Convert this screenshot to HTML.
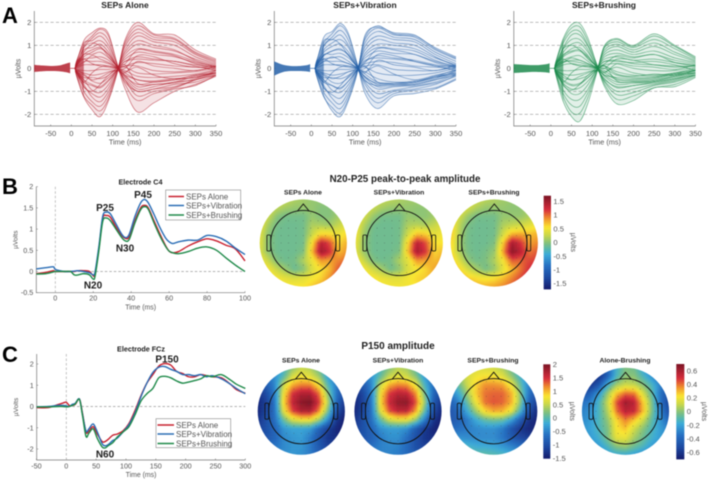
<!DOCTYPE html>
<html lang="en">
<head>
<meta charset="utf-8">
<title>SEP butterfly plots, waveforms and topographies</title>
<style>
html,body{margin:0;padding:0;background:#fff;width:709px;height:480px;overflow:hidden}
svg{display:block;filter:blur(.4px)}
text{font-family:"Liberation Sans",sans-serif;fill:#555}
.ttl{font-weight:bold;fill:#222}
.letter{font-weight:bold;fill:#000;font-size:22px}
.ann{font-weight:bold;fill:#1c1c1c;font-size:10px;text-anchor:middle}
</style>
</head>
<body>
<svg id="figure" width="709" height="480" viewBox="0 0 709 480" xmlns="http://www.w3.org/2000/svg">
<defs>
<filter id="soft" x="-10%" y="-10%" width="120%" height="120%"><feGaussianBlur stdDeviation="1"/></filter>
</defs>
<rect width="709" height="480" fill="#fff"/>
<text class="letter" x="2" y="23">A</text>
<text class="letter" x="2" y="194">B</text>
<text class="letter" x="2" y="362">C</text>
<text class="ttl" x="125" y="8" font-size="8.5" text-anchor="middle">SEPs Alone</text>
<text class="ttl" x="365" y="8" font-size="8.5" text-anchor="middle">SEPs+Vibration</text>
<text class="ttl" x="604" y="8" font-size="8.5" text-anchor="middle">SEPs+Brushing</text>
<text class="ttl" x="140.5" y="184.5" font-size="7.2" text-anchor="middle">Electrode C4</text>
<text class="ttl" x="141" y="351.5" font-size="7.2" text-anchor="middle">Electrode FCz</text>
<text class="ttl" x="405" y="182" font-size="9.8" text-anchor="middle">N20-P25 peak-to-peak amplitude</text>
<text class="ttl" x="398" y="349" font-size="10" text-anchor="middle">P150 amplitude</text>
<text class="ttl" x="303" y="194.5" font-size="6.8" text-anchor="middle">SEPs Alone</text>
<text class="ttl" x="399" y="194.5" font-size="6.8" text-anchor="middle">SEPs+Vibration</text>
<text class="ttl" x="494" y="194.5" font-size="6.8" text-anchor="middle">SEPs+Brushing</text>
<text class="ttl" x="301" y="362.5" font-size="6.8" text-anchor="middle">SEPs Alone</text>
<text class="ttl" x="398" y="362.5" font-size="6.8" text-anchor="middle">SEPs+Vibration</text>
<text class="ttl" x="493" y="362.5" font-size="6.8" text-anchor="middle">SEPs+Brushing</text>
<text class="ttl" x="625" y="362.5" font-size="6.8" text-anchor="middle">Alone-Brushing</text>
<g id="layer"></g>
<g id="notes">
<text class="ann" x="105" y="211">P25</text>
<text class="ann" x="143" y="198">P45</text>
<text class="ann" x="125" y="251.5">N30</text>
<text class="ann" x="93" y="288.5">N20</text>
<text class="ann" x="167" y="362.5">P150</text>
<text class="ann" x="105" y="457.5">N60</text>
</g>
</svg>
<script>
// ---------- Panel A: butterfly plots (µV at each knot time, one row per channel) ----------
const butterflyTimes = [12,30,50,70,90,112,130,160,200,250,300,350];
const preBandTimes = [-90,-70,-50,-30,-10,-3];
const burstTimes = [9,12,18,24,30];
const butterflyYTicks = [2,1,0,-1,-2];
const butterflyXTicks = [-50,0,50,100,150,200,250,300,350];

const aloneTraces = [
[.2,1.2,1.55,1.75,1.5,.1,-.9,-1.9,-1.5,-1.0,-.7,-.35],
[.3,1.0,1.4,1.7,1.4,.15,-.7,-1.4,-1.1,-.9,-.75,-.3],
[.1,.9,1.3,1.55,1.2,.05,-.5,-1.2,-1.0,-.85,-.5,-.2],
[.25,1.1,1.2,1.4,1.0,.1,-.6,-1.0,-.9,-.7,-.6,-.3],
[.15,.7,1.05,1.2,.85,.0,-.4,-.9,-.8,-.6,-.5,-.25],
[.2,.8,.9,1.05,.7,.05,-.3,-.8,-.7,-.65,-.45,-.1],
[.1,.5,.7,.85,.6,.0,-.35,-.7,-.6,-.5,-.4,-.2],
[.05,.6,.6,.7,.45,.05,-.2,-.5,-.55,-.45,-.4,-.15],
[.1,.4,.45,.5,.35,.0,-.1,-.35,-.4,-.35,-.25,-.05],
[.05,.3,.3,.3,.2,.02,.05,-.2,-.25,-.2,-.15,.0],
[.0,.15,.15,.15,.1,-.02,.1,.1,-.1,-.15,-.1,.05],
[-.05,-.1,-.1,-.05,-.05,.02,.1,.25,.2,.1,.05,.0],
[-.1,-.2,-.3,-.25,-.15,.0,.3,.5,.4,.3,.15,.05],
[-.1,-.4,-.4,-.45,-.3,.05,.4,.7,.6,.5,.25,.1],
[-.15,-.3,-.55,-.65,-.4,-.02,.5,.85,.75,.6,.3,.05],
[-.1,-.6,-.75,-.85,-.55,-.05,.6,1.05,.9,.75,.4,.15],
[-.2,-.5,-.95,-1.05,-.7,.0,.7,1.2,1.0,.8,.35,.1],
[-.2,-.8,-1.1,-1.25,-.85,-.05,.8,1.4,1.15,1.0,.5,.2],
[-.15,-.7,-1.25,-1.45,-1.0,-.1,.95,1.55,1.25,1.15,.6,.25],
[-.25,-1.0,-1.45,-1.65,-1.15,-.05,1.05,1.7,1.35,1.25,.65,.3],
[-.3,-1.2,-1.6,-1.85,-1.3,-.1,1.15,1.85,1.45,1.3,.7,.35],
[-.3,-1.25,-1.8,-2.1,-1.4,-.15,1.25,2.0,1.5,1.45,.8,.4],
[.15,.6,.8,.9,.6,.1,.3,.4,.35,.3,.1,-.1],
[-.1,-.5,-.7,-.8,-.5,-.1,-.3,-.5,-.6,-.5,-.3,-.2],
[.1,.9,1.1,.95,.5,.1,.2,.8,.7,.55,.2,.05],
[-.15,-.8,-1.0,-.7,-.3,-.1,-.5,-1.0,-.9,-.8,-.5,-.3],
[.05,.25,.55,.4,.25,.05,.0,.55,.5,.2,.05,.1],
[-.05,-.25,-.5,-.4,-.2,-.05,.15,-.65,-.7,-.6,-.35,-.2],
[.2,.4,.2,.1,.05,.0,-.15,.05,-.3,-.45,-.3,-.1],
[-.15,-.6,-.2,.05,.1,.0,-.2,.3,.1,.0,-.1,.1]
];
const alonePreUpper = [.15,.12,.1,.12,.22,.25];
const alonePreLower = [-.16,-.13,-.12,-.13,-.18,-.22];
const aloneBurstUpper = [.05,.3,.42,.55,1.2];
const aloneBurstLower = [-.05,-.2,-.42,-.55,-1.25];

const vibrationTraces = [
[.2,1.35,1.6,1.95,1.5,.1,-1.1,-1.75,-1.2,-1.1,-.9,-.5],
[.3,1.1,1.5,1.85,1.4,.15,-.9,-1.5,-1.1,-.95,-.85,-.45],
[.15,1.0,1.35,1.65,1.2,.05,-.7,-1.3,-1.0,-.9,-.7,-.3],
[.25,1.2,1.25,1.45,1.0,.1,-.6,-1.1,-.95,-.8,-.65,-.35],
[.1,.8,1.1,1.25,.9,.0,-.5,-.9,-.8,-.75,-.6,-.25],
[.2,.7,.95,1.05,.7,.05,-.4,-.8,-.75,-.7,-.5,-.2],
[.1,.55,.75,.8,.6,.0,-.35,-.7,-.7,-.65,-.45,-.1],
[.05,.6,.6,.65,.45,.05,-.25,-.6,-.65,-.6,-.4,-.15],
[.1,.4,.45,.5,.3,.0,-.15,-.45,-.6,-.55,-.35,-.05],
[.05,.3,.3,.3,.2,.02,.05,-.2,-.3,-.3,-.2,.0],
[.0,.15,.15,.15,.1,-.02,.1,.15,-.05,-.1,-.1,.05],
[-.05,-.1,-.1,-.05,-.05,.02,.2,.3,.25,.1,.05,.0],
[-.1,-.2,-.3,-.25,-.15,.0,.3,.55,.45,.35,.15,.05],
[-.1,-.4,-.4,-.45,-.3,.05,.45,.75,.65,.6,.3,.1],
[-.15,-.3,-.6,-.65,-.4,-.02,.55,.9,.85,.75,.35,.05],
[-.1,-.6,-.75,-.85,-.55,-.05,.65,1.05,1.0,.85,.45,.15],
[-.2,-.5,-.95,-1.05,-.7,.0,.8,1.25,1.1,1.0,.5,.1],
[-.2,-.85,-1.15,-1.3,-.85,-.05,.95,1.4,1.25,1.15,.6,.2],
[-.15,-.75,-1.3,-1.55,-1.0,-.1,1.1,1.6,1.35,1.25,.7,.3],
[-.25,-1.05,-1.5,-1.75,-1.15,-.05,1.25,1.75,1.45,1.35,.8,.4],
[-.3,-1.25,-1.7,-1.95,-1.3,-.1,1.35,1.85,1.5,1.4,.9,.5],
[-.3,-1.2,-1.85,-2.1,-1.4,-.15,1.45,1.8,1.55,1.45,.85,.45],
[.15,.55,.75,.85,.55,.1,.35,.45,.4,.3,.1,-.1],
[-.1,-.5,-.75,-.9,-.55,-.1,-.4,-.65,-.65,-.6,-.35,-.2],
[.1,.95,1.25,1.05,.55,.1,.25,.85,.8,.6,.25,.05],
[-.15,-.85,-1.05,-.75,-.35,-.1,-.55,-.75,-.7,-.7,-.5,-.3],
[.05,.3,.5,.35,.2,.05,.0,.6,.55,.3,.1,.1],
[-.05,-.25,-.45,-.35,-.15,-.05,.1,-.6,-.65,-.6,-.4,-.25],
[.2,.4,.2,.1,.05,.0,-.15,.1,-.25,-.5,-.3,-.1],
[-.15,-.6,-.2,.05,.1,.0,-.2,.35,.15,.05,-.1,.15]
];
const vibrationPreUpper = [.3,.16,.1,.1,.14,.18];
const vibrationPreLower = [-.32,-.17,-.12,-.12,-.14,-.16];
const vibrationBurstUpper = [.05,.32,.42,.6,1.3];
const vibrationBurstLower = [-.05,-.2,-.42,-.55,-1.2];

const brushingTraces = [
[.3,1.3,1.9,1.95,1.3,.1,-.8,-1.55,-1.4,-.85,-.8,-.4],
[.2,1.2,1.75,1.8,1.15,.15,-.7,-1.35,-1.2,-.85,-.7,-.35],
[.25,1.1,1.6,1.6,1.0,.05,-.6,-1.15,-1.05,-.75,-.6,-.3],
[.15,.9,1.45,1.45,.95,.1,-.55,-1.0,-.9,-.7,-.55,-.3],
[.2,.85,1.25,1.25,.8,.0,-.45,-.85,-.75,-.65,-.5,-.25],
[.1,.7,1.05,1.1,.7,.05,-.35,-.7,-.65,-.6,-.45,-.2],
[.15,.55,.85,.9,.55,.0,-.3,-.6,-.6,-.55,-.4,-.15],
[.05,.5,.7,.75,.45,.05,-.2,-.5,-.55,-.5,-.35,-.1],
[.1,.35,.5,.55,.3,.0,-.1,-.45,-.5,-.45,-.3,-.1],
[.05,.25,.35,.35,.2,.02,.0,-.3,-.4,-.4,-.25,-.05],
[.0,.15,.2,.15,.1,-.02,.1,-.15,-.3,-.35,-.2,.0],
[-.05,-.1,-.1,-.05,-.05,.02,.15,.2,.0,-.1,-.1,.05],
[-.1,-.25,-.3,-.25,-.15,.0,.3,.35,.2,.15,.1,.1],
[-.1,-.4,-.5,-.45,-.3,.05,.4,.5,.35,.4,.25,.15],
[-.15,-.5,-.7,-.65,-.4,-.02,.5,.65,.5,.6,.35,.2],
[-.1,-.65,-.9,-.85,-.55,-.05,.6,.8,.6,.75,.45,.25],
[-.2,-.7,-1.1,-1.1,-.7,.0,.7,.95,.7,.95,.6,.3],
[-.2,-.95,-1.35,-1.35,-.9,-.05,.8,1.05,.8,1.1,.7,.35],
[-.25,-1.1,-1.6,-1.65,-1.05,-.1,.9,1.15,.9,1.25,.85,.4],
[-.25,-1.25,-1.9,-1.95,-1.25,-.1,.95,1.25,.95,1.4,.95,.45],
[-.3,-1.45,-2.1,-2.3,-1.5,-.15,1.0,1.3,1.0,1.5,1.0,.5],
[.15,.6,.75,.8,.5,.1,.3,.3,.25,.3,.15,-.1],
[-.1,-.55,-.75,-.7,-.4,-.1,-.3,-.4,-.45,-.4,-.25,-.2],
[.1,.85,1.0,.8,.4,.1,.2,.55,.45,.6,.25,.1],
[-.15,-.75,-.95,-.7,-.3,-.1,-.5,-.8,-.75,-.6,-.45,-.3],
[.05,.25,.45,.35,.2,.05,.0,.4,.35,.15,.05,.1],
[-.05,-.3,-.5,-.35,-.2,-.05,.1,-.55,-.6,-.55,-.35,-.2],
[.2,.4,.2,.1,.05,.0,-.15,.05,-.2,-.3,-.2,-.1],
[-.15,-.6,-.2,.05,.1,.0,-.2,.2,.1,.05,-.05,.15],
[.1,.3,.3,.25,.15,.02,.1,-.25,-.35,-.25,-.3,-.1]
];
const brushingPreUpper = [.18,.16,.14,.14,.18,.22];
const brushingPreLower = [-.2,-.18,-.16,-.16,-.18,-.2];
const brushingBurstUpper = [.05,.32,.4,.65,1.3];
const brushingBurstLower = [-.05,-.22,-.42,-.6,-1.45];

// ---------- Panel B: electrode C4 waveforms ----------
const c4Times = [-10,-5,-1,0,5,8,10,12,15,18,20,21,23,25,27,29,32,35,37,39,42,45,47,49,52,55,58,60,62,65,70,75,80,85,90,95,100];
const c4Alone = [-.05,-.02,.02,0,0,0,0,.02,.02,0,-.1,-.05,.55,1.25,1.32,1.28,1.05,.85,.78,.82,1.2,1.5,1.56,1.5,1.2,.9,.62,.48,.44,.47,.6,.7,.77,.72,.62,.53,.25];
const c4Vibration = [.06,.09,.11,.05,0,0,.01,.02,0,-.03,-.08,0,.6,1.3,1.4,1.36,1.12,.88,.8,.88,1.3,1.62,1.7,1.62,1.35,1.05,.8,.7,.66,.7,.74,.74,.85,.82,.72,.55,.4];
const c4Brushing = [-.06,-.05,-.01,0,0,0,-.08,-.08,-.05,-.08,-.18,-.1,.5,1.18,1.26,1.2,1,.8,.72,.76,1.15,1.46,1.53,1.47,1.15,.85,.6,.48,.44,.42,.47,.55,.58,.5,.32,.15,0];
const c4XTicks = [0,20,40,60,80,100];
const c4YTicks = [2,1.5,1,.5,0,-.5];

// ---------- Panel C: electrode FCz waveforms ----------
const fczTimes = [-50,-30,-15,-5,0,5,10,15,22,27,33,38,45,52,60,65,70,78,85,95,105,115,125,135,145,155,165,175,185,195,205,215,225,235,245,260,275,285,300];
const fczAlone = [-.05,-.05,.08,.17,.2,.05,.05,.1,.35,-.3,-1.2,-1.15,-.95,-1.3,-1.65,-1.65,-1.55,-1.35,-1.3,-1.15,-.8,-.2,.5,1.1,1.5,1.9,2.02,1.95,1.65,1.55,1.4,1.4,1.5,1.45,1.4,1.35,1.05,.8,.62];
const fczVibration = [-.02,0,.05,.05,.03,0,.1,.15,.35,-.35,-1.15,-1.05,-.82,-1.2,-1.75,-1.85,-1.8,-1.6,-1.5,-1.2,-.85,-.3,.45,1.1,1.6,1.85,1.88,1.75,1.65,1.5,1.5,1.45,1.5,1.4,1.45,1.3,1.05,.85,.6];
const fczBrushing = [-.02,-.02,0,0,-.02,0,.05,.12,.33,-.4,-1.4,-1.25,-1.05,-1.5,-1.9,-1.95,-1.85,-1.7,-1.45,-1.2,-.95,-.4,.25,.6,.85,1.35,1.42,1.35,1.2,1.1,1.15,1.22,1.3,1.45,1.4,1.5,1.25,1.05,.85];
const fczXTicks = [-50,0,50,100,150,200,250,300];
const fczYTicks = [2,1,0,-1,-2];

// ---------- Topographies: µV on an 11×11 scalp grid (rows front to back, columns left to right) ----------
const topoB1 = [
[.45,.4,.3,.25,.15,.1,.05,.05,.05,.05,.05],
[.45,.35,.2,.1,.05,.05,.05,-.02,-.02,.05,.05],
[.45,.25,-.02,-.1,-.1,-.1,.05,-.02,-.02,.1,.2],
[.45,.1,-.1,-.12,-.12,-.1,.15,.15,.1,.25,.4],
[.4,.0,-.12,-.12,-.12,-.1,.25,.6,.6,.45,.6],
[.4,-.02,-.12,-.12,-.12,-.1,.55,1.35,1.1,.6,.75],
[.35,.02,-.12,-.12,-.12,-.05,.7,1.5,1.25,.7,.85],
[.5,.25,-.05,-.12,-.08,.15,.45,.85,.8,.9,1],
[.65,.5,.25,.05,-.15,-.02,.35,.55,.7,1.05,1.2],
[.7,.6,.5,.4,.35,.4,.5,.6,.85,1.2,1.3],
[.7,.65,.6,.55,.55,.55,.65,.8,1,1.2,1.3]
];
const topoB2 = [
[.4,.35,.3,.25,.2,.15,.1,.1,.1,.1,.1],
[.45,.4,.25,.12,.05,.05,.05,.02,.02,.1,.15],
[.5,.3,.05,-.1,-.1,-.1,.05,.02,.02,.1,.25],
[.5,.15,-.1,-.12,-.12,-.1,.15,.2,.15,.25,.4],
[.5,.05,-.12,-.12,-.12,-.1,.3,.7,.65,.4,.5],
[.45,.0,-.12,-.12,-.12,-.1,.6,1.35,1.1,.55,.55],
[.4,.05,-.12,-.12,-.12,-.05,.7,1.45,1.2,.6,.7],
[.55,.25,-.05,-.12,-.08,.15,.4,.85,.8,.7,.8],
[.65,.5,.3,.1,-.12,.02,.35,.5,.6,.8,.9],
[.65,.6,.55,.45,.4,.4,.5,.6,.65,.75,.85],
[.65,.6,.6,.55,.5,.5,.5,.55,.65,.75,.85]
];
const topoB3 = [
[.5,.45,.4,.3,.2,.15,.1,.05,.05,.05,.05],
[.55,.45,.3,.15,.05,.05,.05,.02,.02,.1,.15],
[.6,.3,.05,-.1,-.1,-.1,.05,.05,.05,.15,.3],
[.65,.2,-.08,-.12,-.12,-.1,.15,.25,.3,.4,.55],
[.7,.15,-.1,-.12,-.12,-.1,.3,.75,.8,.7,.75],
[.65,.1,-.1,-.12,-.12,-.05,.65,1.45,1.2,.8,.9],
[.6,.15,-.08,-.12,-.08,.05,.8,1.6,1.35,.95,1.05],
[.75,.35,.02,-.1,-.05,.15,.5,1.05,1,1.1,1.15],
[.85,.6,.3,.1,-.1,.05,.4,.7,.95,1.2,1.3],
[.95,.85,.65,.55,.5,.55,.7,.9,1.1,1.3,1.35],
[.95,.9,.8,.75,.75,.8,.9,1.05,1.2,1.3,1.35]
];
const topoC1 = [
[-.6,-.5,-.35,-.1,.25,.5,.4,.1,-.3,-.6,-.8],
[-.8,-.65,-.4,.0,.6,.75,.65,.35,-.25,-.65,-.85],
[-1.1,-.85,-.45,.55,1.05,1.2,1.2,.8,.0,-.55,-.95],
[-1.3,-1.05,-.5,.8,1.5,1.7,1.7,1.3,.3,-.6,-1.1],
[-1.4,-1.15,-.55,.9,1.6,1.9,2,1.5,.5,-.75,-1.25],
[-1.4,-1.1,-.6,.7,1.4,1.7,1.7,1.2,.2,-.95,-1.4],
[-1.3,-1,-.65,.1,.6,.75,.75,.35,-.4,-1.25,-1.5],
[-1.15,-1,-.75,-.35,-.25,-.25,-.3,-.75,-1.15,-1.4,-1.5],
[-1.05,-.95,-.75,-.45,-.35,-.3,-.55,-.95,-1.25,-1.35,-1.45],
[-.85,-.75,-.6,-.45,-.35,-.35,-.55,-.9,-1.15,-1.25,-1.25],
[-.7,-.65,-.55,-.4,-.35,-.4,-.55,-.8,-1,-1.1,-1.1]
];
const topoC2 = [
[-.7,-.5,-.3,-.05,.2,.45,.35,.05,-.35,-.65,-.85],
[-.85,-.65,-.35,.05,.5,.65,.55,.25,-.3,-.7,-.9],
[-1.15,-.9,-.45,.55,1.05,1.2,1.15,.75,-.05,-.65,-1],
[-1.35,-1.1,-.5,.8,1.45,1.65,1.6,1.2,.2,-.7,-1.15],
[-1.4,-1.15,-.55,.85,1.55,1.85,1.9,1.4,.4,-.85,-1.3],
[-1.4,-1.1,-.6,.65,1.35,1.6,1.6,1.1,.1,-1,-1.4],
[-1.3,-1,-.65,.05,.55,.7,.7,.3,-.5,-1.25,-1.5],
[-1.15,-1,-.75,-.4,-.3,-.3,-.4,-.85,-1.2,-1.4,-1.5],
[-1.05,-.95,-.8,-.55,-.4,-.4,-.65,-1,-1.25,-1.35,-1.45],
[-.9,-.8,-.65,-.5,-.45,-.5,-.7,-1,-1.15,-1.25,-1.25],
[-.75,-.7,-.6,-.5,-.5,-.55,-.7,-.9,-1.05,-1.1,-1.1]
];
const topoC3 = [
[.15,.35,.55,.6,.6,.55,.4,.1,-.2,-.4,-.5],
[.0,.3,.6,.75,.8,.8,.65,.3,-.1,-.45,-.6],
[-.3,.1,.55,.9,1.15,1.15,1.1,.75,.1,-.5,-.8],
[-.6,-.2,.35,.95,1.25,1.3,1.3,1.05,.3,-.6,-1],
[-.85,-.5,.1,.75,1.25,1.35,1.3,1.05,.3,-.8,-1.2],
[-.95,-.7,-.2,.35,.85,1.05,1,.7,-.05,-1,-1.4],
[-.95,-.8,-.55,-.2,.05,.15,.1,-.25,-.85,-1.3,-1.45],
[-.75,-.65,-.55,-.45,-.4,-.4,-.55,-.95,-1.25,-1.4,-1.45],
[-.45,-.4,-.45,-.45,-.45,-.45,-.6,-.9,-1.1,-1.2,-1.2],
[-.05,-.05,-.1,-.2,-.2,-.25,-.35,-.5,-.65,-.75,-.8],
[.15,.15,.1,.05,.05,.0,-.05,-.2,-.3,-.4,-.4]
];
const topoC4 = [
[-.65,-.65,-.6,-.4,-.15,-.02,-.05,-.2,-.35,-.4,-.45],
[-.7,-.68,-.62,-.4,-.12,.0,.0,-.12,-.25,-.4,-.45],
[-.65,-.6,-.45,-.15,.05,.12,.1,.0,-.12,-.3,-.45],
[-.5,-.4,-.22,.05,.3,.42,.4,.15,-.08,-.35,-.5],
[-.35,-.3,-.12,.12,.45,.62,.55,.28,-.02,-.35,-.55],
[-.3,-.25,-.12,.08,.4,.55,.52,.3,-.02,-.3,-.5],
[-.28,-.22,-.12,.02,.25,.38,.28,.12,-.08,-.25,-.4],
[-.25,-.2,-.12,-.02,.22,.28,.12,.0,-.12,-.22,-.3],
[-.28,-.22,-.15,-.02,.18,.18,.05,-.05,-.15,-.22,-.28],
[-.32,-.28,-.22,-.12,.0,.03,-.05,-.12,-.22,-.28,-.32],
[-.35,-.32,-.28,-.22,-.18,-.18,-.22,-.28,-.32,-.35,-.35]
];
const topoBBarTicks = [1.5,1,.5,0,-.5,-1,-1.5];
const topoCBarTicks = [2,1.5,1,.5,0,-.5,-1,-1.5];
const topoDiffBarTicks = [.6,.4,.2,0,-.2,-.4,-.6];

// ---------- Shared colour scale (position on the bar, colour) ----------
const colorStops = [0,.12,.25,.37,.43,.48,.58,.66,.75,.85,1];
const colorValues = [[20,28,110],[28,72,160],[38,112,194],[60,170,216],[88,184,172],[122,190,132],[204,216,72],[250,230,50],[240,150,45],[214,44,60],[122,20,36]];

const NS = 'http://www.w3.org/2000/svg';
const layer = document.getElementById('layer');
function mk(tag, parent, attrs, txt) {
  const e = document.createElementNS(NS, tag);
  for (const k in attrs) e.setAttribute(k, attrs[k]);
  if (txt !== undefined) e.textContent = txt;
  parent.appendChild(e);
  return e;
}
function scale(d0, d1, r0, r1) { return v => r0 + (v - d0) * (r1 - r0) / (d1 - d0); }
function smoothPath(xs, ys) {
  let d = 'M' + xs[0].toFixed(2) + ' ' + ys[0].toFixed(2);
  for (let i = 0; i < xs.length - 1; i++) {
    const a = Math.max(i - 1, 0), b = Math.min(i + 2, xs.length - 1);
    const c1x = xs[i] + (xs[i + 1] - xs[a]) / 6, c1y = ys[i] + (ys[i + 1] - ys[a]) / 6;
    const c2x = xs[i + 1] - (xs[b] - xs[i]) / 6, c2y = ys[i + 1] - (ys[b] - ys[i]) / 6;
    d += 'C' + [c1x, c1y, c2x, c2y, xs[i + 1], ys[i + 1]].map(n => n.toFixed(2)).join(' ');
  }
  return d;
}
function colorAt(t) {
  t = Math.max(0, Math.min(1, t));
  let i = 0;
  while (i < colorStops.length - 2 && t > colorStops[i + 1]) i++;
  const f = (t - colorStops[i]) / (colorStops[i + 1] - colorStops[i]);
  const c = colorValues[i].map((v, k) => Math.round(v + (colorValues[i + 1][k] - v) * f));
  return 'rgb(' + c.join(',') + ')';
}
function axes(g, left, right, top, bottom, x, y, xTicks, yTicks, tickY, labelY, labelX, fs) {
  const ax = mk('path', g, {d: 'M' + left + ' ' + top + 'V' + bottom + 'H' + right, fill: 'none', stroke: '#777', 'stroke-width': .7});
  
  
  xTicks.forEach(v => {
    const tick = mk('line', g, {x1: x(v), x2: x(v), y1: bottom, y2: bottom - 1.5, stroke: '#777', 'stroke-width': .6});
    
    
    const lab = mk('text', g, {x: x(v), y: tickY, 'font-size': fs, 'text-anchor': 'middle'}, String(v));
    
    
  });
  yTicks.forEach(v => {
    const tick = mk('line', g, {x1: left, x2: left + 1.5, y1: y(v), y2: y(v), stroke: '#777', 'stroke-width': .6});
    
    
    const lab = mk('text', g, {x: left - 3, y: y(v) + fs * .35, 'font-size': fs, 'text-anchor': 'end'}, String(v));
    
    
  });
  const xt = mk('text', g, {x: (left + right) / 2, y: labelY, 'font-size': fs - .3, 'text-anchor': 'middle'}, 'Time (ms)');
  
  
  const cy = (top + bottom) / 2;
  const yt = mk('text', g, {x: labelX, y: cy, 'font-size': fs - .5, 'text-anchor': 'middle', transform: 'rotate(-90 ' + labelX + ' ' + cy + ')'}, 'µVolts');
  
  
}

function butterfly(name, off, traces, preUp, preLow, burstUp, burstLow, color) {
  const g = mk('g', layer, {});
  
  
  const left = 34.3 + off, right = 216 + off;
  const x = scale(-50, 350, 50.7 + off, 216 + off), y = scale(2, -2, 22.3, 114.3);
  butterflyYTicks.filter(v => v !== 0).forEach(v => {
    const grid = mk('line', g, {x1: left, x2: right, y1: y(v), y2: y(v), stroke: '#999', 'stroke-width': .7, 'stroke-dasharray': '3.2 2.2'});
    
    
  });
  axes(g, left, right, 11, 126, x, y, butterflyXTicks, butterflyYTicks, 135.8, 144.5, 20.5 + off, 7.6);
  const band = (ts, up, low, op) => {
    const xs = ts.map(x);
    const d = smoothPath(xs, up.map(y)) + 'L' + smoothPath(xs.slice().reverse(), low.slice().reverse().map(y)).slice(1) + 'Z';
    const p = mk('path', g, {d: d, fill: color, 'fill-opacity': op});
    
    
  };
  band(preBandTimes, preUp, preLow, .85);
  band(burstTimes, burstUp, burstLow, .6);
  band(butterflyTimes, butterflyTimes.map((t, k) => Math.max(...traces.map(r => r[k]))), butterflyTimes.map((t, k) => Math.min(...traces.map(r => r[k]))), .13);
  const flat = mk('line', g, {x1: x(-3), x2: x(9), y1: y(0), y2: y(0), stroke: color, 'stroke-width': .6});
  
  
  const xs = butterflyTimes.map(x);
  traces.forEach(row => {
    const p = mk('path', g, {d: smoothPath([x(9)].concat(xs), [y(0)].concat(row.map(y))), fill: 'none', stroke: color, 'stroke-width': .6, 'stroke-opacity': .72});
    
    
  });
}
butterfly('butterfly-alone', 0, aloneTraces, alonePreUpper, alonePreLower, aloneBurstUpper, aloneBurstLower, '#b3202e');
butterfly('butterfly-vibration', 240, vibrationTraces, vibrationPreUpper, vibrationPreLower, vibrationBurstUpper, vibrationBurstLower, '#2460a8');
butterfly('butterfly-brushing', 479.5, brushingTraces, brushingPreUpper, brushingPreLower, brushingBurstUpper, brushingBurstLower, '#1c8a4c');

const seriesColors = ['#c8202e', '#2a6db5', '#1f8a4a'];
const seriesNames = ['SEPs Alone', 'SEPs+Vibration', 'SEPs+Brushing'];
function legend(g, bx, by, bw, bh, rowsY, lineX0, lineX1, textX) {
  const box = mk('rect', g, {x: bx, y: by, width: bw, height: bh, fill: '#fff', stroke: '#888', 'stroke-width': .6});
  
  
  seriesNames.forEach((s, i) => {
    const ln = mk('line', g, {x1: lineX0, x2: lineX1, y1: rowsY[i], y2: rowsY[i], stroke: seriesColors[i], 'stroke-width': 1.5});
    
    
    const t = mk('text', g, {x: textX, y: rowsY[i] + 2.8, 'font-size': 8, fill: '#333'}, s);
    
    
  });
}
function waveforms(name, times, series, x, y, left, right, top, bottom, xTicks, yTicks, tickY, labelY, labelX, zeroStart) {
  const g = mk('g', layer, {});
  
  
  axes(g, left, right, top, bottom, x, y, xTicks, yTicks, tickY, labelY, labelX, 7.2);
  const vz = mk('line', g, {x1: x(0), x2: x(0), y1: top, y2: bottom, stroke: '#aaa', 'stroke-width': .7, 'stroke-dasharray': '2.5 2'});
  
  
  const hz = mk('line', g, {x1: x(zeroStart), x2: right, y1: y(0), y2: y(0), stroke: '#999', 'stroke-width': .7, 'stroke-dasharray': '2.5 2'});
  
  
  series.forEach((vals, i) => {
    const p = mk('path', g, {d: smoothPath(times.map(x), vals.map(y)), fill: 'none', stroke: seriesColors[i], 'stroke-width': 1.4});
    
    
  });
  return g;
}
const gB = waveforms('c4-waveform-chart', c4Times, [c4Alone, c4Vibration, c4Brushing], scale(0, 100, 55.3, 245), scale(2, -.5, 186.7, 292.7), 36.3, 245, 186.7, 292.7, c4XTicks, c4YTicks, 300.5, 309.5, 17.5, 0);
legend(gB, 165.7, 190, 75, 30, [196.5, 205.5, 215], 168.5, 184, 186);
const gC = waveforms('fcz-waveform-chart', fczTimes, [fczAlone, fczVibration, fczBrushing], scale(0, 300, 66.3, 245.3), scale(2, -2, 364, 449), 36.7, 245.3, 354, 460, fczXTicks, fczYTicks, 468.5, 477, 18, -50);
legend(gC, 156, 418.7, 74.7, 29, [425, 434, 443.5], 157.5, 174, 176);

function topomap(name, clipId, cx, cy, grid, lo, hi) {
  const R = 43.6, step = 3, n = grid.length - 1;
  const g = mk('g', layer, {});
  
  
  const defs = mk('clipPath', g, {id: clipId});
  mk('circle', defs, {cx: cx, cy: cy, r: R});
  const clipped = mk('g', g, {'clip-path': 'url(#' + clipId + ')'});
  const cells = mk('g', clipped, {filter: 'url(#soft)'});
  for (let py = -R - 3; py < R + 3; py += step) {
    for (let px = -R - 3; px < R + 3; px += step) {
      if (px * px + py * py > (R + 7) * (R + 7)) continue;
      const u = Math.max(0, Math.min(n, ((px + step / 2) / R + 1) / 2 * n));
      const w = Math.max(0, Math.min(n, ((py + step / 2) / R + 1) / 2 * n));
      const i = Math.min(n - 1, Math.floor(u)), j = Math.min(n - 1, Math.floor(w));
      const fu = u - i, fw = w - j;
      const v = grid[j][i] * (1 - fu) * (1 - fw) + grid[j][i + 1] * fu * (1 - fw) + grid[j + 1][i] * (1 - fu) * fw + grid[j + 1][i + 1] * fu * fw;
      const r = mk('rect', cells, {x: cx + px, y: cy + py, width: step + .3, height: step + .3, fill: colorAt((v - lo) / (hi - lo))});
      
      
    }
  }
  for (let row = -4; row <= 4; row++) {
    for (let col = -4; col <= 4; col++) {
      const dx = col * 7.4, dy = row * 7.4;
      if (dx * dx + dy * dy > 31 * 31) continue;
      const dot = mk('circle', g, {cx: cx + dx, cy: cy + dy, r: .4, fill: '#444', 'fill-opacity': .7});
      
      
    }
  }
  const head = mk('circle', g, {cx: cx, cy: cy, r: 32.6, fill: 'none', stroke: '#111', 'stroke-width': .9});
  
  
  const nose = mk('path', g, {d: 'M' + (cx - 5.8) + ' ' + (cy - 32) + 'L' + cx + ' ' + (cy - 39) + 'L' + (cx + 5.8) + ' ' + (cy - 32), fill: 'none', stroke: '#111', 'stroke-width': .9});
  
  
  [-1, 1].forEach(s => {
    const ear = mk('rect', g, {x: s < 0 ? cx - 36.4 : cx + 32.6, y: cy - 8, width: 3.8, height: 16, rx: 1.2, fill: 'none', stroke: '#111', 'stroke-width': .8});
    
    
  });
}
topomap('topo-b-alone', 'c1', 303.3, 243, topoB1, -1.7, 1.7);
topomap('topo-b-vibration', 'c2', 399.3, 243, topoB2, -1.7, 1.7);
topomap('topo-b-brushing', 'c3', 494.3, 243, topoB3, -1.7, 1.7);
topomap('topo-c-alone', 'c4', 301.3, 411.2, topoC1, -1.5, 2);
topomap('topo-c-vibration', 'c5', 398, 411.2, topoC2, -1.5, 2);
topomap('topo-c-brushing', 'c6', 493.7, 411.2, topoC3, -1.5, 2);
topomap('topo-c-difference', 'c7', 625.5, 411.3, topoC4, -.7, .7);

function colorbar(name, x0, x1, y0, y1, lo, hi, ticks, titleX) {
  const g = mk('g', layer, {});
  
  
  const y = scale(lo, hi, y1, y0), h = y1 - y0;
  for (let k = 0; k < 47; k++) {
    const r = mk('rect', g, {x: x0, y: y0 + k * h / 47, width: x1 - x0, height: h / 47 + .4, fill: colorAt(1 - (k + .5) / 47)});
    
    
  }
  ticks.forEach(v => {
    const t = mk('text', g, {x: x1 + 2.4, y: y(v) + 2.7, 'font-size': 7.6}, String(v));
    
    
  });
  const cy = (y0 + y1) / 2;
  const t = mk('text', g, {x: titleX, y: cy, 'font-size': 7, 'text-anchor': 'middle', transform: 'rotate(90 ' + titleX + ' ' + cy + ')'}, 'µVolts');
  
  
}
colorbar('colorbar-b', 543.7, 551, 195.7, 289, -1.7, 1.7, topoBBarTicks, 571);
colorbar('colorbar-c', 543.3, 550.3, 364.3, 458.3, -1.5, 2, topoCBarTicks, 570);
colorbar('colorbar-difference', 676.3, 684.3, 364, 459, -.7, .7, topoDiffBarTicks, 702);
document.getElementById('figure').appendChild(document.getElementById('notes'));
</script>
</body>
</html>
